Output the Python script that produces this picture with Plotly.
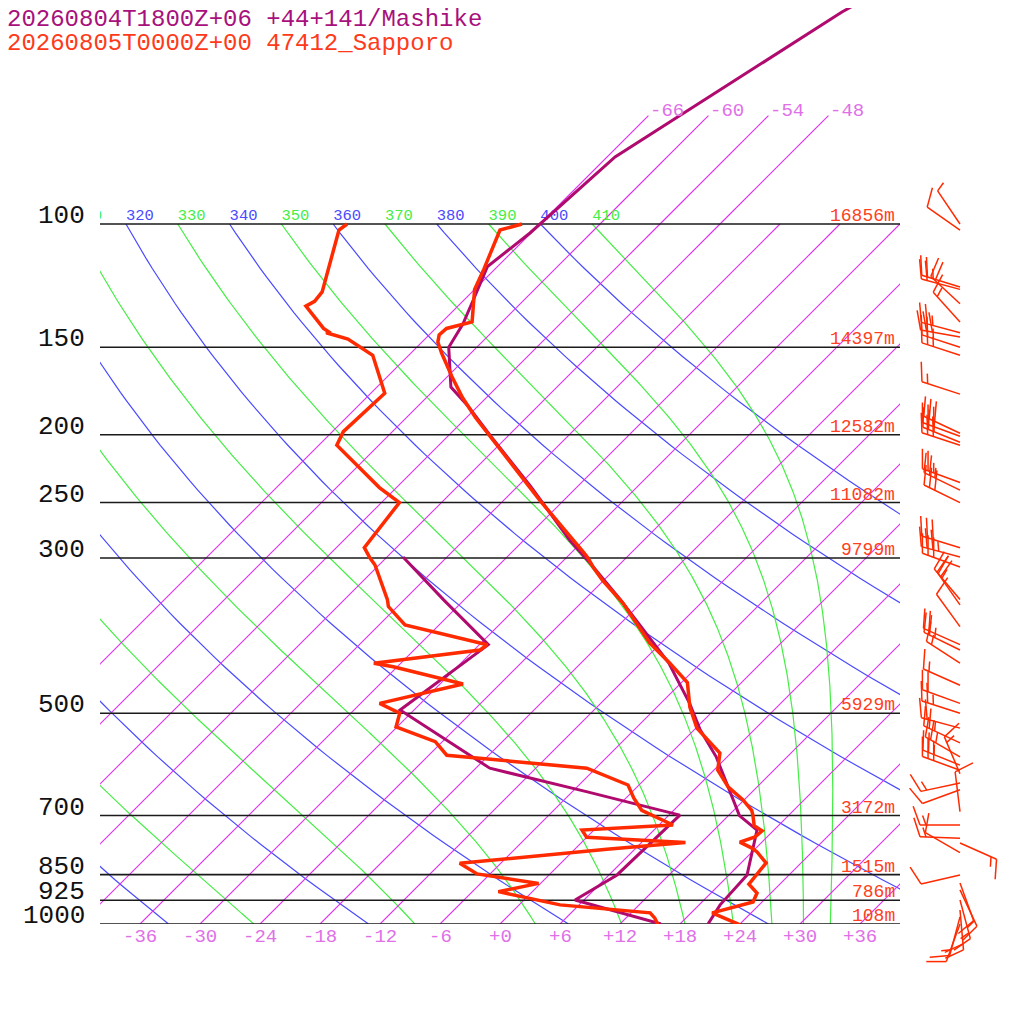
import numpy as np
import plotly.graph_objects as go

# ---------------- sounding data (pressure hPa, temperature degC) ----------------
# Sapporo 47412, 2026-08-05 00Z (red)
sap_t_p = [1003, 964, 930, 903, 877, 818, 789, 779, 764, 751, 736, 724, 699, 688, 665,
           637, 603, 570, 525, 490, 452, 424, 397, 364, 348, 323, 309, 300, 294, 249,
           209, 201, 189, 177, 165, 153, 147.5, 144, 141, 138, 124, 116, 109, 102, 100]
sap_t = [24.1, 20.1, 23.1, 22.6, 20.9, 20.5, 18.5, 17.6, 15.8, 16.8, 16.9, 15.6, 14.4, 13.8, 11.9,
         9.1, 6.4, 4.9, 0.1, -2.7, -5.4, -9.1, -13.1, -17.5, -19.8, -24.1, -26.4, -27.8, -28.9, -38.2,
         -47.6, -49.7, -53.1, -56.4, -59.6, -62.9, -64.4, -65.0, -64.9, -63.0, -66.0, -67.1, -68.2, -69.4, -67.8]

sap_td_p = [1003, 981, 964, 939, 899, 875, 848, 819, 782, 765, 752, 734, 722, 688, 661, 633,
            599, 574, 549, 523, 500, 484, 454, 429, 424, 406, 399, 374, 352, 344, 307, 300,
            290, 250, 238, 207, 198, 174.5, 154, 146, 143, 142.5, 141, 131, 129, 125, 102, 100]
sap_td = [15.9, 14.9, 13.9, 4.1, -3.4, -0.2, -7.3, -10.1, 3.2, 10.4, 0.0, -1.2, 7.4, 2.8, 0.8, -1.1,
          -6.9, -22.2, -24.7, -30.1, -31.1, -34.1, -27.7, -36.4, -38.7, -29.4, -29.2, -39.4, -42.9, -43.7, -48.4, -49.6,
          -51.2, -52.2, -55.7, -64.2, -64.9, -64.6, -69.6, -73.7, -76.5, -76.4, -77.2, -81.2, -80.8, -81.0, -85.5, -85.3]

# Mashike forecast, 2026-08-04 18Z +06 (purple)
mash_t_p = [1000, 939, 851, 750, 734, 700, 630, 577, 528, 484, 424, 397, 376, 344, 305, 283,
            237, 201, 182, 171, 150, 139, 126, 115, 103, 100, 80.2, 49.8, 30]
mash_t = [20.8, 20.1, 19.8, 16.8, 16.3, 13.1, 8.6, 4.9, 0.6, -3.1, -9.2, -12.7, -15.6, -20.4, -27.1, -31.4,
          -40.7, -49.7, -55.0, -58.6, -62.8, -63.7, -65.4, -67.0, -66.1, -66.0, -65.2, -57.0, -45.0]

mash_td_p = [1000, 924, 851, 699, 647, 599, 494.5, 399, 344, 299]
mash_td = [16.1, 5.1, 6.8, 7.1, -4.6, -16.6, -31.4, -29.1, -38.1, -46.4]

# Sapporo winds (pressure hPa, direction deg, speed kt)
wind_p = [100, 102, 123, 124, 130, 138, 143, 145, 150, 154, 175, 199, 201, 205, 207, 234, 240,
          250, 290, 299, 309, 344, 350, 376, 399, 406, 424, 456, 484, 500, 525, 551, 577, 593,
          603, 610, 629, 643, 691, 722, 754, 766, 791, 851, 874, 894, 924, 955, 977, 1000]
wind_dir = [326, 305, 287, 285, 313, 318, 285, 280, 288, 288, 288, 295, 290, 292, 288, 290, 296,
            296, 287, 285, 290, 320, 325, 324, 294, 296, 303, 294, 290, 288, 285, 295, 300, 292,
            290, 337, 258, 250, 353, 270, 272, 114, 300, 257, 160, 155, 165, 175, 195, 200]
wind_kt = [5, 10, 25, 20, 20, 15, 25, 30, 25, 25, 15, 30, 30, 25, 30, 25, 25,
           30, 30, 35, 30, 25, 20, 10, 20, 25, 15, 15, 20, 25, 20, 25, 25, 25,
           30, 15, 15, 10, 10, 15, 15, 15, 10, 10, 10, 15, 15, 20, 15, 10]

# ---------------- diagram background ----------------
isobars = [100, 150, 200, 250, 300, 500, 700, 850, 925, 1000]
heights = ["16856m", "14397m", "12582m", "11082m", "9799m", "5929m", "3172m", "1515m", "786m", "108m"]
iso_t = [-66, -60, -54, -48, -42, -36, -30, -24, -18, -12, -6, 0, 6, 12, 18, 24, 30, 36]
iso_top_t = [-66, -60, -54, -48]
dry_theta = [240, 260, 280, 300, 320, 340, 360, 380, 400]
moist_theta = [250, 270, 290, 310, 330, 350, 370, 390, 410]
tick_t = [-36, -30, -24, -18, -12, -6, 0, 6, 12, 18, 24, 30, 36]

SKEW = 70.0      # degC shift per decade of pressure (700 px per decade)
KAPPA = 0.2857
FONT = "Liberation Mono"

C_SAP = "#ff2a00"
C_MASH = "#b00a6e"
C_ISO = "#e02ef0"
C_ISO_TXT = "#e070e8"
C_DRY = "#4a4aff"
C_MOIST = "#44ee44"

# page has an 8px body margin: figure is 1016 wide, screen px -> paper
W = H = 1016
OFF = 8


def pxx(px):
    return (px - OFF) / W


def pxy(py):
    return 1 - (py - OFF) / H


def skew_x(t, p):
    return np.asarray(t, float) + SKEW * np.log10(1000.0 / np.asarray(p, float))


def sat_mix(tk, p):
    tc = tk - 273.15
    es = 6.112 * np.exp(17.67 * tc / (tc + 243.5))
    return 0.622 * es / (p - es)


def moist_dtdp(tk, p):
    rs = sat_mix(tk, p)
    num = 287.04 * tk + 2.501e6 * rs
    den = 1005.7 + 2.501e6 ** 2 * rs * 0.622 / (287.04 * tk ** 2)
    return num / den / p


def moist_curve(theta):
    # start at 100 hPa on the dry adiabat theta, integrate down to 1000 hPa
    p = 100.0
    tk = theta * (p / 1000.0) ** KAPPA
    ps, ts = [p], [tk]
    dp = 2.0
    while p < 1000.0 - 1e-9:
        k1 = moist_dtdp(tk, p)
        k2 = moist_dtdp(tk + 0.5 * dp * k1, p + 0.5 * dp)
        k3 = moist_dtdp(tk + 0.5 * dp * k2, p + 0.5 * dp)
        k4 = moist_dtdp(tk + dp * k3, p + dp)
        tk += dp / 6.0 * (k1 + 2 * k2 + 2 * k3 + k4)
        p += dp
        ps.append(p)
        ts.append(tk)
    return np.array(ps), np.array(ts) - 273.15


fig = go.Figure()


def add_lines(segments, color, width, xaxis="x", yaxis="y"):
    xs, ys = [], []
    for sx, sy in segments:
        xs += [float(v) for v in sx] + [None]
        ys += [float(v) for v in sy] + [None]
    fig.add_trace(go.Scatter(x=xs, y=ys, mode="lines", line=dict(color=color, width=width),
                             hoverinfo="skip", showlegend=False, xaxis=xaxis, yaxis=yaxis))


# dry adiabats
pgrid = np.logspace(3, 2, 80)
seg = []
for th in dry_theta:
    tt = th * (pgrid / 1000.0) ** KAPPA - 273.15
    seg.append((skew_x(tt, pgrid), pgrid))
add_lines(seg, C_DRY, 1.2)

# moist adiabats
seg = []
for th in moist_theta:
    pp, tt = moist_curve(th)
    seg.append((skew_x(tt, pp), pp))
add_lines(seg, C_MOIST, 1.2)

# isotherms
seg = []
for t in iso_t:
    pp = [1000, 100]
    seg.append((skew_x([t, t], pp), pp))
for t in iso_top_t:
    pp = [100, 70]
    seg.append((skew_x([t, t], pp), pp))
add_lines(seg, C_ISO, 1.1)

# isobars
seg = [([-40, 40], [p, p]) for p in isobars]
add_lines(seg, "#1a1a1a", 1.6)

# adiabat labels at 100 hPa (clipped to the plot like the original)
for vals, col in ((dry_theta, C_DRY), (moist_theta, C_MOIST)):
    t100 = np.array(vals) * 0.1 ** KAPPA - 273.15
    fig.add_trace(go.Scatter(x=skew_x(t100, [100] * len(vals)), y=[100] * len(vals),
                             mode="text", text=[str(v) for v in vals], textposition="top right",
                             textfont=dict(family=FONT, size=15.5, color=col),
                             cliponaxis=True, hoverinfo="skip", showlegend=False))

# soundings
fig.add_trace(go.Scatter(x=skew_x(mash_td, mash_td_p), y=mash_td_p, mode="lines",
                         line=dict(color=C_MASH, width=3), hoverinfo="skip", showlegend=False))
fig.add_trace(go.Scatter(x=skew_x(mash_t, mash_t_p), y=mash_t_p, mode="lines",
                         line=dict(color=C_MASH, width=3), hoverinfo="skip", showlegend=False))
fig.add_trace(go.Scatter(x=skew_x(sap_td, sap_td_p), y=sap_td_p, mode="lines",
                         line=dict(color=C_SAP, width=3.5), hoverinfo="skip", showlegend=False))
fig.add_trace(go.Scatter(x=skew_x(sap_t, sap_t_p), y=sap_t_p, mode="lines",
                         line=dict(color=C_SAP, width=3.5), hoverinfo="skip", showlegend=False))

# wind barbs (x2 in pixels, y2 log pressure extending below the diagram)
STAFF, GAP, FEATHER = 40.0, 6.0, 20.0
rot = np.radians(-70)
seg = []
for p, d, kt in zip(wind_p, wind_dir, wind_kt):
    dr = np.radians(d)
    ux, uy = np.sin(dr), np.cos(dr)
    fx = ux * np.cos(rot) - uy * np.sin(rot)
    fy = ux * np.sin(rot) + uy * np.cos(rot)

    def to_ax(ox, oy, p=p):
        return 60.0 + ox, p * 10 ** (-oy / 700.0)

    a = to_ax(0, 0)
    b = to_ax(STAFF * ux, STAFF * uy)
    seg.append(([a[0], b[0]], [a[1], b[1]]))
    n10, n5 = kt // 10, (kt % 10) // 5
    flags = [FEATHER] * n10 + [FEATHER / 2] * n5
    for i, fl in enumerate(flags):
        s = STAFF - i * GAP
        q0 = to_ax(s * ux, s * uy)
        q1 = to_ax(s * ux + fl * fx, s * uy + fl * fy)
        seg.append(([q0[0], q1[0]], [q0[1], q1[1]]))
add_lines(seg, C_SAP, 1.5, xaxis="x2", yaxis="y2")

# ---------------- text ----------------
ann = []
for p in isobars:
    ann.append(dict(xref="paper", yref="y", x=pxx(87), y=np.log10(p), text=str(p),
                    xanchor="right", yanchor="bottom", yshift=-9, showarrow=False,
                    font=dict(family=FONT, size=26, color="#111111")))
for p, h in zip(isobars, heights):
    ann.append(dict(xref="paper", yref="y", x=pxx(897), y=np.log10(p), text=h,
                    xanchor="right", yanchor="bottom", yshift=-4, showarrow=False,
                    font=dict(family=FONT, size=18, color="#ff4020")))
for t in tick_t:
    ann.append(dict(xref="x", yref="paper", x=t, y=pxy(937),
                    text=("+%d" % t) if t >= 0 else str(t),
                    xanchor="center", yanchor="middle", showarrow=False,
                    font=dict(family=FONT, size=19, color=C_ISO_TXT)))
for t in iso_top_t:
    ann.append(dict(xref="x", yref="y", x=float(skew_x(t, 70)), y=np.log10(70), text=str(t),
                    xanchor="left", yanchor="bottom", yshift=-8, showarrow=False,
                    font=dict(family=FONT, size=19, color=C_ISO_TXT)))
ann.append(dict(xref="paper", yref="paper", x=pxx(5), y=pxy(4),
                text="20260804T1800Z+06 +44+141/Mashike", xanchor="left", yanchor="top",
                showarrow=False, font=dict(family=FONT, size=24, color="#a8107c")))
ann.append(dict(xref="paper", yref="paper", x=pxx(5), y=pxy(28),
                text="20260805T0000Z+00 47412_Sapporo", xanchor="left", yanchor="top",
                showarrow=False, font=dict(family=FONT, size=24, color="#ff3a1a")))

fig.update_layout(
    width=W, height=H, autosize=False,
    margin=dict(l=0, r=0, t=0, b=0),
    paper_bgcolor="white", plot_bgcolor="white",
    showlegend=False,
    xaxis=dict(domain=[pxx(100), pxx(900)], range=[-40, 40], visible=False),
    yaxis=dict(domain=[pxy(924), 1], type="log", range=[3, 3 - (924 - OFF) / 700], visible=False),
    xaxis2=dict(domain=[pxx(900), 1], range=[0, 124], visible=False, anchor="y2"),
    yaxis2=dict(domain=[0, 1], type="log", range=[3 + (1024 - 924) / 700, 3 - (924 - OFF) / 700],
                visible=False, anchor="x2"),
    annotations=ann,
)

fig.write_html("out.html")
